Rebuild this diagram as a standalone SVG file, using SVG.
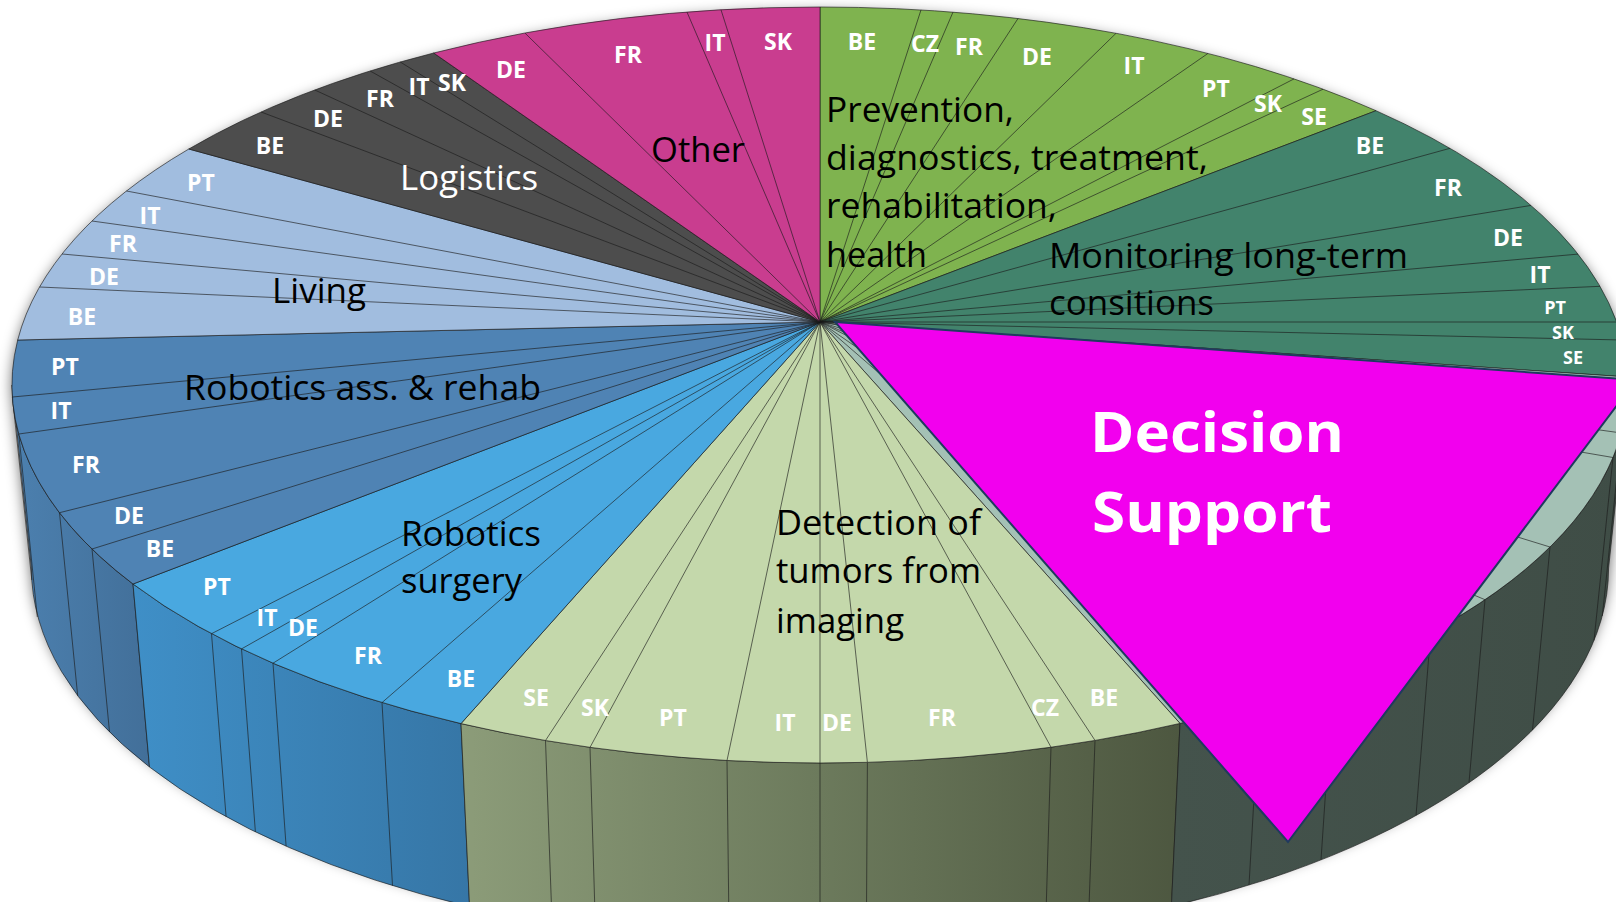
<svg xmlns="http://www.w3.org/2000/svg" width="1616" height="902" viewBox="0 0 1616 902">
<defs>
<style>
.ln{fill:none;stroke:#1b1b1b;stroke-width:0.75;stroke-opacity:0.85}
.sl{stroke:#1b1b1b;stroke-width:0.75;stroke-opacity:0.85}
.cc{font-family:"Open Sans","Noto Sans","Liberation Sans",sans-serif;font-weight:700;font-size:23px;fill:#fff;text-anchor:middle}
.sm{font-size:18px}
.cat{font-family:"Open Sans","Noto Sans","Liberation Sans",sans-serif;font-size:35px;fill:#000}
.big{font-family:"Open Sans","Noto Sans","Liberation Sans",sans-serif;font-weight:700;font-size:56px;fill:#fff}
</style>
<filter id="sh" x="-10%" y="-10%" width="120%" height="130%">
<feGaussianBlur stdDeviation="7"/>
<feOffset dx="0" dy="5"/>
</filter>
<linearGradient id="wRA" gradientUnits="userSpaceOnUse" x1="12" y1="0" x2="150" y2="0"><stop offset="0" stop-color="#4C80AF"/><stop offset="1" stop-color="#426F99"/></linearGradient>
<linearGradient id="wRS" gradientUnits="userSpaceOnUse" x1="133" y1="0" x2="470" y2="0"><stop offset="0" stop-color="#3F8FC7"/><stop offset="1" stop-color="#3676A6"/></linearGradient>
<linearGradient id="wDT" gradientUnits="userSpaceOnUse" x1="461" y1="0" x2="1180" y2="0"><stop offset="0" stop-color="#8C9C79"/><stop offset="0.5" stop-color="#6C7A5C"/><stop offset="1" stop-color="#4D5740"/></linearGradient>
<linearGradient id="wDS" gradientUnits="userSpaceOnUse" x1="1172" y1="0" x2="1628" y2="0"><stop offset="0" stop-color="#44534C"/><stop offset="1" stop-color="#3F4D46"/></linearGradient>
</defs>
<rect width="1616" height="902" fill="#fff"/>

<g id="shadow" filter="url(#sh)">
<path d="M12,385 L31.4,568 A789,378 0 0 0 1608.6,568 L1628,385 A808,378 0 0 0 12,385 Z" fill="#000" fill-opacity="0.6"/>
</g>

<g id="walls">
<path class="sl" fill="url(#wRA)" d="M12,385 A808,378 0 0 0 133,584 L149.5,767 A789,378 0 0 1 31.4,568 Z"/>
<path class="sl" fill="url(#wRS)" d="M133,584 A808,378 0 0 0 461,723.6 L469.6,906.6 A789,378 0 0 1 149.5,767 Z"/>
<path class="sl" fill="url(#wDT)" d="M461,723.6 A808,378 0 0 0 1180,723.4 L1171.4,906.4 A789,378 0 0 1 469.6,906.6 Z"/>
<path class="sl" fill="url(#wDS)" d="M1180,723.4 A808,378 0 0 0 1628,385 L1608.6,568 A789,378 0 0 1 1171.4,906.4 Z"/>
<path class="ln" d="M92,549 L109.5,732 M59.5,512.7 L77.7,695.7 M18.8,434 L37.3,617 M12.4,397 L31.8,580
M211.5,633.7 L226.1,816.7 M241.5,648.9 L255.4,831.9 M273,663.2 L286.1,846.2 M382,702.6 L392.5,885.6
M545.5,740.5 L552.1,923.5 M590,747.4 L595.5,930.4 M727,760.5 L729.2,943.5 M820,763 L820,946 M867.4,762.3 L866.3,945.3 M1051,747.2 L1045.5,930.2 M1095,740.4 L1088.4,923.4
M1259.5,702.1 L1249,885.1 M1333.3,676.9 L1321,859.9 M1430.7,632.5 L1416,815.5 M1485,599.7 L1469,782.7 M1550,547 L1532.5,730 M1613,457.5 L1594,640.5 M1621.5,433 L1602.3,616"/>
</g>

<g id="slice-prevention">
<path class="sl" fill="#7FB34F" d="M820,322 L820,7 A808,378 0 0 1 1376,110.7 Z"/>
<path class="ln" d="M820,322 L921,9.9 M820,322 L953,12.1 M820,322 L1018,18.5 M820,322 L1116,33.3 M820,322 L1208,53.4 M820,322 L1294,78.9 M820,322 L1323,89.2"/>
</g>
<g id="slice-monitoring">
<path class="sl" fill="#42836C" d="M820,322 L1376,110.7 A808,378 0 0 1 1627.8,377 Z"/>
<path class="ln" d="M820,322 L1450,148.3 M820,322 L1531,205.4 M820,322 L1578,254.1 M820,322 L1600,286.3 M820,322 L1616.7,322 M820,322 L1622.3,340"/>
</g>
<g id="slice-decision">
<path class="sl" fill="#A4C1B5" d="M820,322 L1627.8,377 A808,378 0 0 1 1180,723.4 Z"/>
<path class="ln" d="M820,322 L1621.5,433 M820,322 L1613,457.5 M820,322 L1550,547 M820,322 L1485,599.7 M820,322 L1430.7,632.5 M820,322 L1333.3,676.9 M820,322 L1259.5,702.1"/>
</g>
<g id="slice-detection">
<path class="sl" fill="#C4D8AB" d="M820,322 L1180,723.4 A808,378 0 0 1 461,723.6 Z"/>
<path class="ln" d="M820,322 L1095,740.4 M820,322 L1051,747.2 M820,322 L867.4,762.3 M820,322 L820,763 M820,322 L727,760.5 M820,322 L590,747.4 M820,322 L545.5,740.5"/>
</g>
<g id="slice-surgery">
<path class="sl" fill="#49A8E0" d="M820,322 L461,723.6 A808,378 0 0 1 133,584 Z"/>
<path class="ln" d="M820,322 L382,702.6 M820,322 L273,663.2 M820,322 L241.5,648.9 M820,322 L211.5,633.7"/>
</g>
<g id="slice-robotics-ass">
<path class="sl" fill="#4F83B4" d="M820,322 L133,584 A808,378 0 0 1 17.7,340 Z"/>
<path class="ln" d="M820,322 L92,549 M820,322 L59.5,512.7 M820,322 L18.8,434 M820,322 L12.4,397"/>
</g>
<g id="slice-living">
<path class="sl" fill="#A1BDDF" d="M820,322 L17.7,340 A808,378 0 0 1 188.8,149 Z"/>
<path class="ln" d="M820,322 L39.6,287 M820,322 L62.1,254 M820,322 L92,221 M820,322 L126.5,191"/>
</g>
<g id="slice-logistics">
<path class="sl" fill="#4D4D4D" d="M820,322 L188.8,149 A808,378 0 0 1 433.7,53 Z"/>
<path class="ln" d="M820,322 L261.1,112 M820,322 L314.8,90 M820,322 L370.2,71 M820,322 L400.3,62"/>
</g>
<g id="slice-other">
<path class="sl" fill="#C93D8F" d="M820,322 L433.7,53 A808,378 0 0 1 820,7 Z"/>
<path class="ln" d="M820,322 L525,33.1 M820,322 L687,12.1 M820,322 L721,9.8"/>
</g>

<g id="highlight-triangle">
<polygon points="835,322 1636,380 1288,842" fill="#F200EE" stroke="#1F3A5F" stroke-width="2"/>
<text class="big" x="1090" y="452" textLength="254" lengthAdjust="spacingAndGlyphs">Decision</text>
<text class="big" x="1092" y="532" textLength="240" lengthAdjust="spacingAndGlyphs">Support</text>
</g>

<g id="category-labels">
<text class="cat" x="651" y="162" textLength="94" lengthAdjust="spacingAndGlyphs">Other</text>
<text class="cat" x="400" y="190" textLength="138" lengthAdjust="spacingAndGlyphs" style="fill:#fff">Logistics</text>
<text class="cat" x="272" y="303" textLength="94" lengthAdjust="spacingAndGlyphs">Living</text>
<text class="cat" x="184" y="400" textLength="357" lengthAdjust="spacingAndGlyphs">Robotics ass. &amp; rehab</text>
<text class="cat" x="401" y="546" textLength="140" lengthAdjust="spacingAndGlyphs">Robotics</text>
<text class="cat" x="401" y="593" textLength="121" lengthAdjust="spacingAndGlyphs">surgery</text>
<text class="cat" x="776" y="535" textLength="205" lengthAdjust="spacingAndGlyphs">Detection of</text>
<text class="cat" x="776" y="583" textLength="205" lengthAdjust="spacingAndGlyphs">tumors from</text>
<text class="cat" x="776" y="633" textLength="128" lengthAdjust="spacingAndGlyphs">imaging</text>
<text class="cat" x="826" y="122" textLength="188" lengthAdjust="spacingAndGlyphs">Prevention,</text>
<text class="cat" x="826" y="170" textLength="382" lengthAdjust="spacingAndGlyphs">diagnostics, treatment,</text>
<text class="cat" x="826" y="218" textLength="231" lengthAdjust="spacingAndGlyphs">rehabilitation,</text>
<text class="cat" x="826" y="267" textLength="101" lengthAdjust="spacingAndGlyphs">health</text>
<text class="cat" x="1049" y="268" textLength="359" lengthAdjust="spacingAndGlyphs">Monitoring long-term</text>
<text class="cat" x="1049" y="315" textLength="165" lengthAdjust="spacingAndGlyphs">consitions</text>
</g>

<g id="country-labels">
<text class="cc" x="511" y="78">DE</text><text class="cc" x="628" y="63">FR</text><text class="cc" x="715" y="51">IT</text><text class="cc" x="778" y="50">SK</text>
<text class="cc" x="270" y="154">BE</text><text class="cc" x="328" y="127">DE</text><text class="cc" x="380" y="107">FR</text><text class="cc" x="419" y="95">IT</text><text class="cc" x="452" y="91">SK</text>
<text class="cc" x="201" y="191">PT</text><text class="cc" x="150" y="224">IT</text><text class="cc" x="123" y="252">FR</text><text class="cc" x="104" y="285">DE</text><text class="cc" x="82" y="325">BE</text>
<text class="cc" x="65" y="375">PT</text><text class="cc" x="61" y="419">IT</text><text class="cc" x="86" y="473">FR</text><text class="cc" x="129" y="524">DE</text><text class="cc" x="160" y="557">BE</text>
<text class="cc" x="217" y="595">PT</text><text class="cc" x="267" y="626">IT</text><text class="cc" x="303" y="636">DE</text><text class="cc" x="368" y="664">FR</text><text class="cc" x="461" y="687">BE</text>
<text class="cc" x="536" y="706">SE</text><text class="cc" x="595" y="716">SK</text><text class="cc" x="673" y="726">PT</text><text class="cc" x="785" y="731">IT</text><text class="cc" x="837" y="731">DE</text><text class="cc" x="942" y="726">FR</text><text class="cc" x="1045" y="716">CZ</text><text class="cc" x="1104" y="706">BE</text>
<text class="cc" x="862" y="50">BE</text><text class="cc" x="925" y="52">CZ</text><text class="cc" x="969" y="55">FR</text><text class="cc" x="1037" y="65">DE</text><text class="cc" x="1134" y="74">IT</text><text class="cc" x="1216" y="97">PT</text><text class="cc" x="1268" y="112">SK</text><text class="cc" x="1314" y="125">SE</text>
<text class="cc" x="1370" y="154">BE</text><text class="cc" x="1448" y="196">FR</text><text class="cc" x="1508" y="246">DE</text><text class="cc" x="1540" y="283">IT</text><text class="cc sm" x="1555" y="314">PT</text><text class="cc sm" x="1563" y="339">SK</text><text class="cc sm" x="1573" y="364">SE</text>
</g>
</svg>
